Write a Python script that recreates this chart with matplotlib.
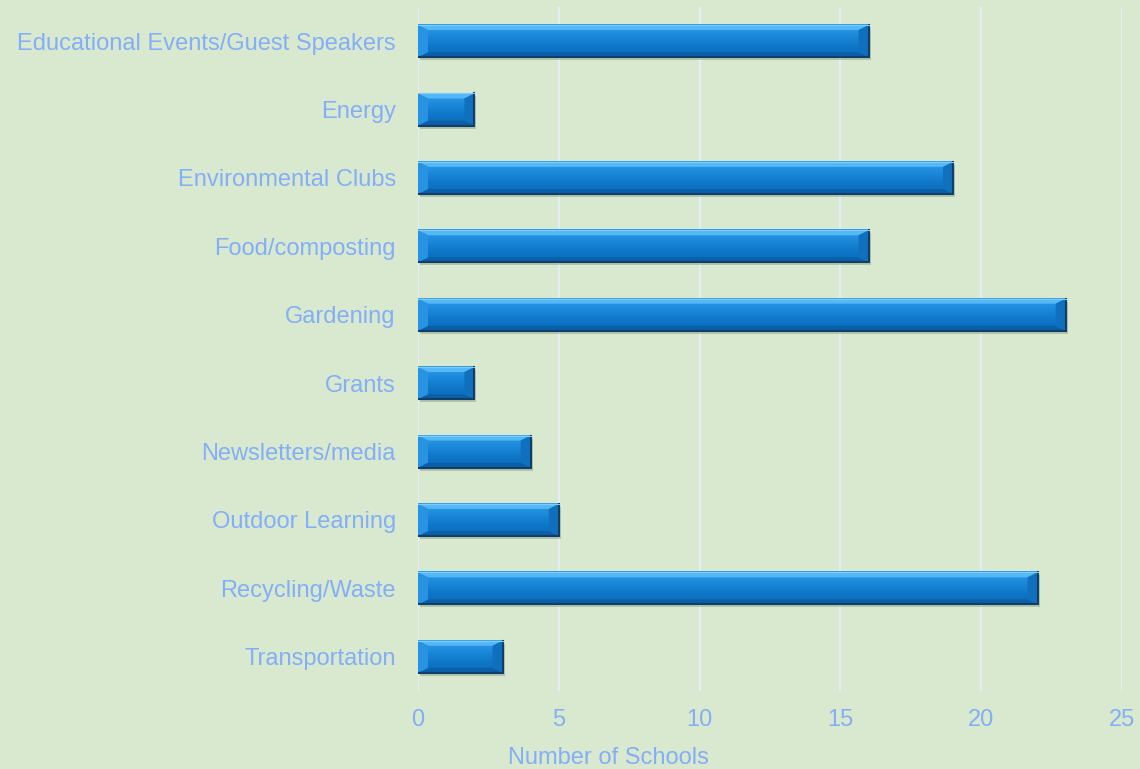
import numpy as np
import matplotlib.pyplot as plt
from matplotlib.patches import Polygon, Rectangle
from matplotlib.colors import LinearSegmentedColormap

categories = [
    "Educational Events/Guest Speakers", "Energy", "Environmental Clubs",
    "Food/composting", "Gardening", "Grants", "Newsletters/media",
    "Outdoor Learning", "Recycling/Waste", "Transportation",
]
schools = [16, 2, 19, 16, 23, 2, 4, 5, 22, 3]
x_ticks = [0, 5, 10, 15, 20, 25]

bg = "#D8E9D0"
text_color = "#84AEF6"
grid_color = "#E8EBF5"

plt.rcParams["font.family"] = ["Liberation Sans", "DejaVu Sans"]

fig = plt.figure(figsize=(11.4, 7.69), dpi=100, facecolor=bg)
ax = fig.add_axes([0.3667, 0.1014, 0.6175, 0.8896], facecolor=bg)

n = len(categories)
y = np.arange(n)
h = 0.47

ax.set_xlim(0, 25)
ax.set_ylim(n - 0.5, -0.5)

# px -> data unit conversion for bevel sizes
fig.canvas.draw()
bb = ax.get_window_extent()
px_x = 25 / bb.width
px_y = n / bb.height
bx = 10 * px_x
by = 5 * px_y

face_cmap = LinearSegmentedColormap.from_list(
    "face", ["#309CEA", "#1C89DA", "#0F77C8", "#0A6BBA"])

for yi, v in zip(y, schools):
    top, bot = yi - h / 2, yi + h / 2
    # drop shadow
    ax.add_patch(Rectangle((2 * px_x, top + 3 * px_y), v, h,
                           facecolor="#6E7F66", alpha=0.35, lw=0, zorder=2))
    # face gradient
    grad = np.linspace(0, 1, 50).reshape(-1, 1)
    ax.imshow(grad, cmap=face_cmap, aspect="auto",
              extent=(0, v, bot, top), zorder=3, interpolation="bilinear")
    # bevels
    ax.add_patch(Polygon([(0, top), (v, top), (v - bx, top + by), (bx, top + by)],
                         closed=True, facecolor="#55B8F6", lw=0, zorder=4))
    ax.add_patch(Polygon([(0, bot), (v, bot), (v - bx, bot - by), (bx, bot - by)],
                         closed=True, facecolor="#0A5FA8", lw=0, zorder=4))
    ax.add_patch(Polygon([(0, top), (bx, top + by), (bx, bot - by), (0, bot)],
                         closed=True, facecolor="#2893E2", lw=0, zorder=4))
    ax.add_patch(Polygon([(v, top), (v - bx, top + by), (v - bx, bot - by), (v, bot)],
                         closed=True, facecolor="#1170BE", lw=0, zorder=4))
    # dark edge right and bottom
    ax.plot([0, v, v], [bot, bot, top], color="#0F3E6B", lw=1.5, zorder=5,
            solid_joinstyle="miter")
    ax.plot([0, v], [top, top], color="#7FCBFA", lw=0.8, zorder=5)

ax.set_xticks(x_ticks)
ax.set_yticks(y)
ax.set_yticklabels(categories)
ax.grid(axis="x", color=grid_color, lw=1.5, zorder=0)
ax.set_axisbelow(True)
for s in ax.spines.values():
    s.set_visible(False)
ax.tick_params(axis="both", length=0, labelsize=17, labelcolor=text_color)
ax.tick_params(axis="y", pad=16)
ax.tick_params(axis="x", pad=13)
ax.set_xlabel("Number of Schools", fontsize=17, color=text_color)
ax.xaxis.set_label_coords(0.27, -0.082)

fig.savefig("out.png", dpi=100, facecolor=bg)
